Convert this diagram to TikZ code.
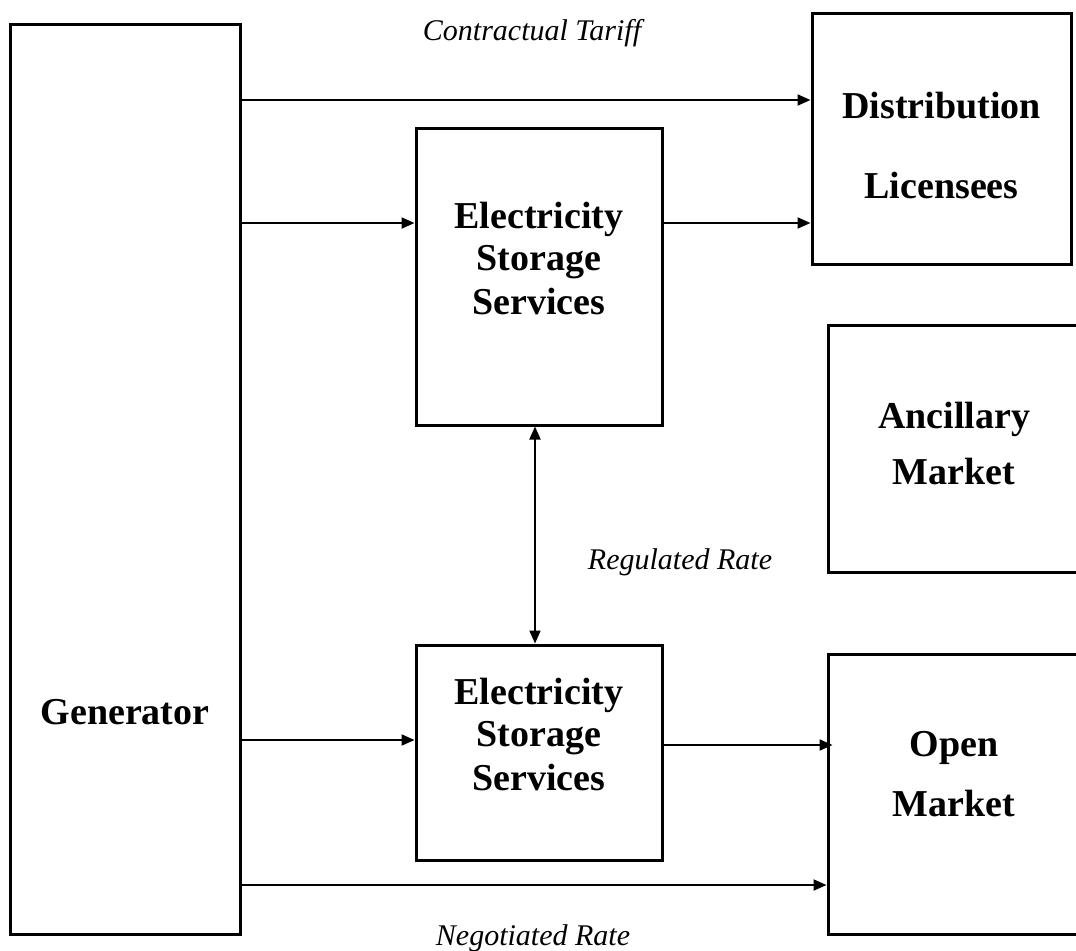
\documentclass[tikz,border=0pt]{standalone}
\usepackage{fontspec}
\setmainfont{Liberation Serif}
\usetikzlibrary{arrows.meta}

\begin{document}
\begin{tikzpicture}[x=0.5pt,y=-0.5pt]
\tikzset{box/.style ={draw, line width=1.5pt, inner sep=0pt}}
\tikzset{title/.style ={align=center, font=\fontsize{19}{22}\selectfont\bfseries}}
\tikzset{flow/.style ={line width=1pt, -{Triangle[length=6.5pt,width=5.5pt]}}}
\tikzset{rate/.style ={font=\fontsize{15}{17}\selectfont\itshape}}
\useasboundingbox (0,0) rectangle (1076,950);
% boxes
\node[box, minimum width=115pt, minimum height=455pt] (gen) at (125,479) {};
\node[box, minimum width=123pt, minimum height=148.5pt] (essa) at (539,276.5) {};
\node[box, minimum width=123pt, minimum height=107.5pt] (essb) at (539,752.5) {};
\node[box, minimum width=129.5pt, minimum height=125.5pt] (dist) at (941.5,138.5) {};
\node[box, minimum width=126pt, minimum height=123.5pt] (anc) at (954,448.5) {};
\node[box, minimum width=126pt, minimum height=140pt] (open) at (954,794) {};
% box titles
\node[title] (genlbl) at (125,712) {Generator};
\node[title] (essalbl) at (539,258) {Electricity\\[-1pt]Storage\\Services};
\node[title] (essblbl) at (539,734) {Electricity\\[-1pt]Storage\\Services};
\node[title] (distlbl) at (941.5,145) {Distribution\\[18pt]Licensees};
\node[title] (anclbl) at (954,443) {Ancillary\\[6pt]Market};
\node[title] (openlbl) at (954,774) {Open\\[8pt]Market};
% connectors
\draw[flow] (gen.east |- 0,100) -- (dist.west |- 0,100);
\draw[flow] (gen.east |- 0,223) -- (essa.west |- 0,223);
\draw[flow] (essa.east |- 0,223) -- (dist.west |- 0,223);
\draw[flow] (gen.east |- 0,740) -- (essb.west |- 0,740);
\draw[flow] (essb.east |- 0,745) -- ([xshift=3pt]open.west |- 0,745);
\draw[flow] (gen.east |- 0,885) -- (open.west |- 0,885);
\draw[flow, {Triangle[length=6.5pt,width=5.5pt]}-{Triangle[length=6.5pt,width=5.5pt]}]
  ([xshift=-2pt]essa.south) -- ([xshift=-2pt]essb.north);
% rates
\node[rate] (tariff) at (532,33) {Contractual Tariff};
\node[rate] (regulated) at (680,562) {Regulated Rate};
\node[rate] (negotiated) at (533,938) {Negotiated Rate};
\end{tikzpicture}
\end{document}
